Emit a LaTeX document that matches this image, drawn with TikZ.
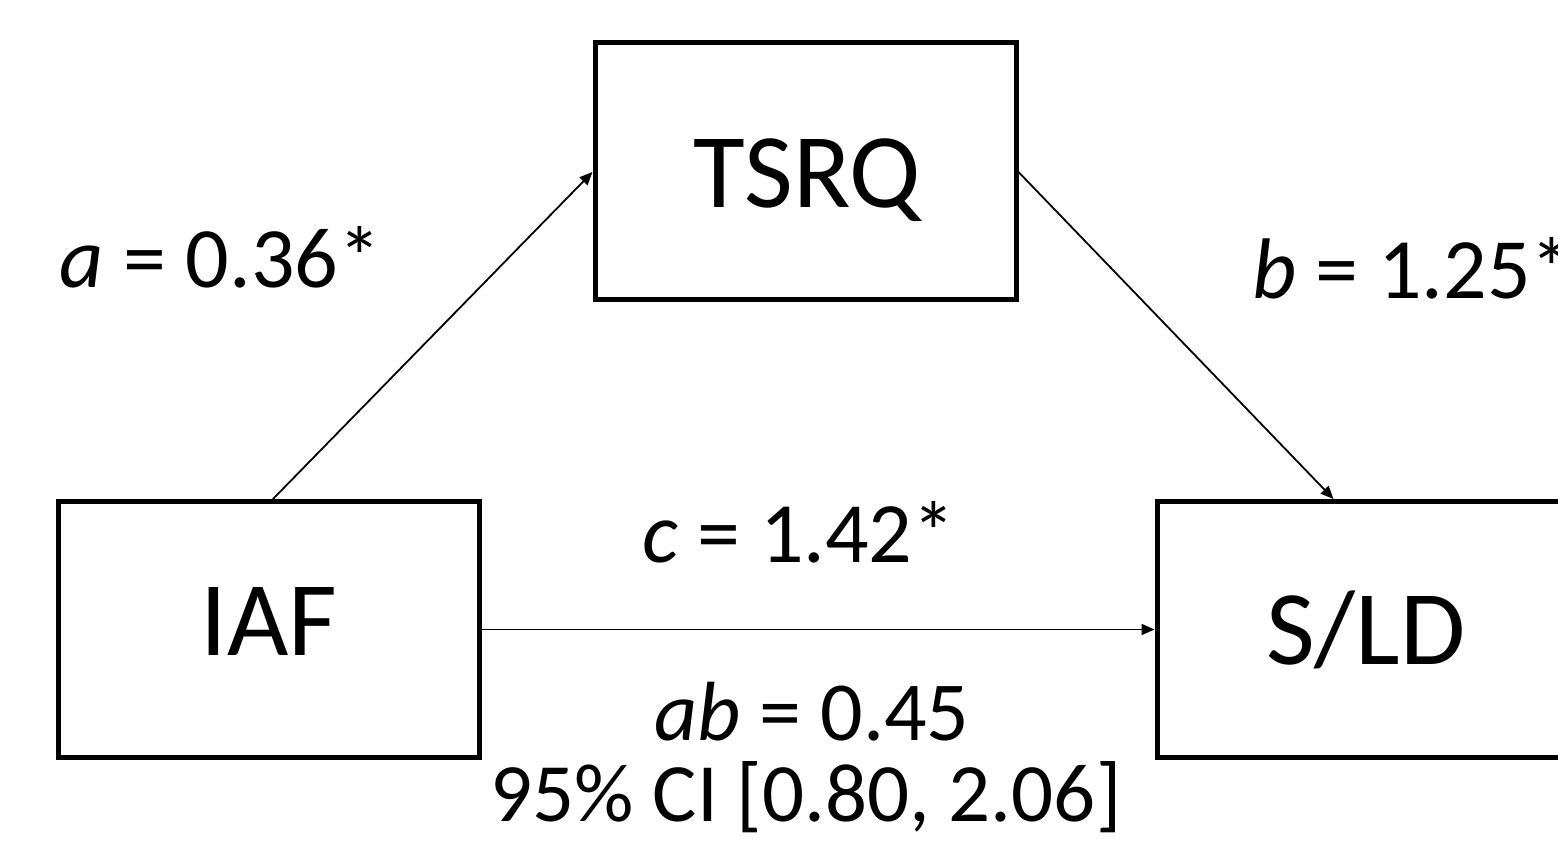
\documentclass[tikz,border=0pt]{standalone}
\usepackage{fontspec}
\setmainfont{Carlito}
\usetikzlibrary{arrows.meta}
\begin{document}
\begin{tikzpicture}[x=1pt,y=-1pt,
  varbox/.style={draw=black,line width=5pt,minimum width=421pt,minimum height=256pt,inner sep=0pt,fill=white},
  boxtext/.style={inner sep=0pt,anchor=base,font=\fontsize{106}{120}\selectfont},
  lbl/.style={inner sep=0pt,anchor=base,font=\fontsize{86}{100}\selectfont},
  arr/.style={line width=1.8pt,-{Triangle[length=13pt,width=11pt]}}]
\useasboundingbox (0,0) rectangle (1558,851);
\clip (0,0) rectangle (1558,851);
\fill[white] (0,0) rectangle (1558,851);
% boxes
\node[varbox] (tsrq) at (805.5,171) {};
\node[varbox] (iaf) at (268.5,629.5) {};
\node[varbox] (sld) at (1367.5,629.5) {};
% box texts
\node[boxtext] (tsrqt) at (807,207) {TSRQ};
\node[boxtext] (iaft) at (269,655) {IAF};
\node[boxtext] (sldt) at (1366,664) {S/LD};
% connectors
\draw[arr] ([xshift=4.5pt]iaf.north) -- ([yshift=-1pt]tsrq.west);
\draw[arr] ([yshift=-1pt]tsrq.east) -- ([xshift=-34pt]sld.north);
\draw[arr] (iaf.east) -- (sld.west);
% labels
\node[lbl] (la) at (220.5,287) {\textit{a} = 0.36*};
\node[lbl,anchor=base west] (lb) at (1252,298) {\textit{b} = 1.25*};
\node[lbl] (lc) at (799,562) {\textit{c} = 1.42*};
\node[lbl,font=\fontsize{84}{100}\selectfont] (lab) at (812,740) {\textit{ab} = 0.45};
\node[lbl,font=\fontsize{83}{100}\selectfont] (lci) at (806,821) {95\% CI [0.80, 2.06]};
\end{tikzpicture}
\end{document}
